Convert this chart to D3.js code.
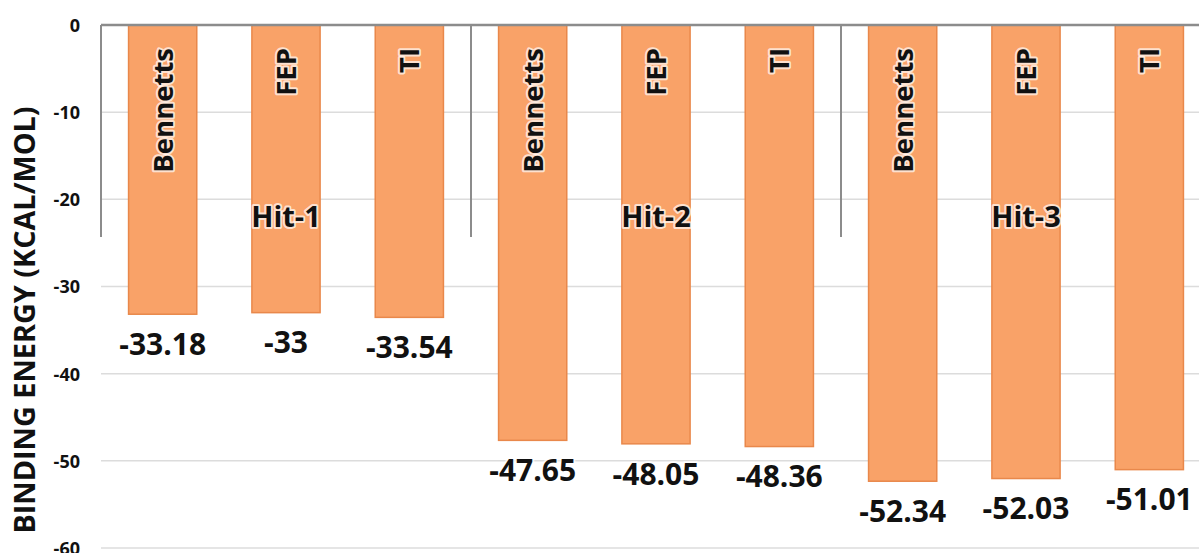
<!DOCTYPE html>
<html>
<head>
<meta charset="utf-8">
<script src="https://cdn.jsdelivr.net/npm/d3@7"></script>
<style>
  html, body { margin: 0; padding: 0; background: #fff; }
  svg { display: block; }
  text { font-family: "Open Sans", "DejaVu Sans", sans-serif; font-weight: 700; fill: #111; }
</style>
</head>
<body>
<svg id="chart" width="1199" height="553"></svg>
<script>
// ---- data ----
const groups = ["Hit-1", "Hit-2", "Hit-3"];
const methods = ["Bennetts", "FEP", "TI"];
const hit1 = [-33.18, -33, -33.54];
const hit2 = [-47.65, -48.05, -48.36];
const hit3 = [-52.34, -52.03, -51.01];
const yTicks = [0, -10, -20, -30, -40, -50, -60];
const yTitle = "BINDING ENERGY (KCAL/MOL)";

const seriesByGroup = [hit1, hit2, hit3];
const rows = [];
groups.forEach((g, gi) => methods.forEach((m, mi) => rows.push({ key: g + "|" + m, group: g, method: m, value: seriesByGroup[gi][mi] })));

// ---- layout ----
const svg = d3.select("#chart");
const plotLeft = 101, plotRight = 1211, plotTop = 25, plotBottom = 548;

const x = d3.scaleBand().domain(rows.map(d => d.key)).range([plotLeft, plotRight]).padding(0);
const xg = d3.scaleBand().domain(groups).range([plotLeft, plotRight]).padding(0);
const y = d3.scaleLinear().domain([0, -60]).range([plotTop, plotBottom]);
const barW = x.bandwidth() * 0.553;
const fmt = v => String(v); // plain hyphen-minus as in the reference

// gridlines
svg.append("g").selectAll("line").data(yTicks.filter(t => t !== 0)).join("line")
  .attr("x1", plotLeft).attr("x2", 1199)
  .attr("y1", d => y(d)).attr("y2", d => y(d))
  .attr("stroke", "#dcdcdc").attr("stroke-width", 1.5);

// y tick labels via axis
const yAxis = d3.axisLeft(y).tickValues(yTicks).tickSize(0).tickPadding(0).tickFormat(fmt);
const ya = svg.append("g").attr("transform", `translate(${plotLeft - 21},0)`).call(yAxis);
ya.select(".domain").remove();
ya.selectAll("text").attr("font-size", 18).attr("font-family", "\"Open Sans\", sans-serif")
  .attr("font-weight", 700).attr("fill", "#111").attr("dy", "0.36em");

// y title
svg.append("text")
  .attr("transform", `translate(35,${(100 + 540) / 2}) rotate(-90)`)
  .attr("text-anchor", "middle")
  .attr("font-size", 28.8)
  .text(yTitle);

// bars
svg.append("g").selectAll("rect").data(rows).join("rect")
  .attr("x", d => x(d.key) + (x.bandwidth() - barW) / 2)
  .attr("width", barW)
  .attr("y", y(0))
  .attr("height", d => y(d.value) - y(0))
  .attr("fill", "#F9A268")
  .attr("stroke", "#E9884B")
  .attr("stroke-width", 1.5);

// top axis line (zero)
svg.append("line").attr("x1", plotLeft).attr("x2", 1199).attr("y1", y(0)).attr("y2", y(0))
  .attr("stroke", "#8c8c8c").attr("stroke-width", 2.5);

// group separators
svg.append("g").selectAll("line").data(groups).join("line")
  .attr("x1", d => xg(d)).attr("x2", d => xg(d))
  .attr("y1", y(0)).attr("y2", 237)
  .attr("stroke", "#8c8c8c").attr("stroke-width", 2);

const halo = sel => sel.attr("stroke", "#fff").attr("stroke-width", 4).attr("stroke-opacity", 0.7)
  .attr("stroke-linejoin", "round").attr("paint-order", "stroke");

// method labels (rotated inside bars)
svg.append("g").selectAll("text").data(rows).join("text")
  .attr("transform", d => `translate(${x(d.key) + x.bandwidth() / 2 + 10},${y(0) + 23}) rotate(-90)`)
  .attr("text-anchor", "end")
  .attr("font-size", 27.5)
  .call(halo)
  .text(d => d.method);

// group labels
svg.append("g").selectAll("text").data(groups).join("text")
  .attr("x", d => xg(d) + xg.bandwidth() / 2)
  .attr("y", 217)
  .attr("dy", "0.36em")
  .attr("text-anchor", "middle")
  .attr("font-size", 29)
  .call(halo)
  .text(d => d);

// value labels
svg.append("g").selectAll("text").data(rows).join("text")
  .attr("x", d => x(d.key) + x.bandwidth() / 2)
  .attr("y", d => y(d.value) + 30)
  .attr("dy", "0.36em")
  .attr("text-anchor", "middle")
  .attr("font-size", 30)
  .call(halo)
  .text(d => fmt(d.value));
</script>
</body>
</html>
